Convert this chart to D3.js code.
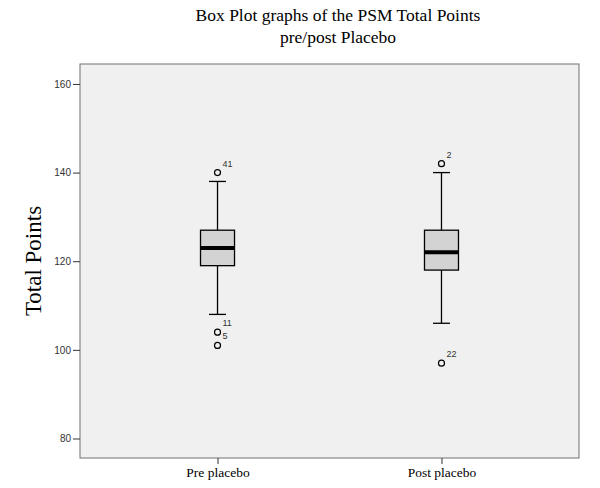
<!DOCTYPE html>
<html><head><meta charset="utf-8">
<script src="https://cdn.jsdelivr.net/npm/d3@7"></script>
<style>body{margin:0;background:#fff;}svg{display:block;}</style>
</head><body>
<svg id="chart" width="600" height="488"></svg>
<script>
const categories = ["Pre placebo", "Post placebo"];
const q1 = [119, 118];
const median = [123, 122];
const q3 = [127, 127];
const whiskerLow = [108, 106];
const whiskerHigh = [138, 140];
const outliers = [
  [{v: 140, id: "41"}, {v: 104, id: "11"}, {v: 101, id: "5"}],
  [{v: 142, id: "2"}, {v: 97, id: "22"}]
];
const yTicks = [80, 100, 120, 140, 160];

const svg = d3.select("#chart");
const L = 80, R = 579, T = 64, B = 458;

const y = d3.scaleLinear().domain([75.6, 164.5]).range([B, T]);
const x = d3.scalePoint().domain(categories).range([L, R]).padding(0.614);

svg.append("rect").attr("x", L).attr("y", T).attr("width", R - L).attr("height", B - T)
  .attr("fill", "#f0f0f0").attr("stroke", "#707070").attr("stroke-width", 1);

// title
const title = svg.append("text").attr("text-anchor", "middle")
  .attr("font-family", "Liberation Serif, Times New Roman, serif").attr("font-size", 17.5).attr("fill", "#000");
title.append("tspan").attr("x", 338).attr("y", 21).text("Box Plot graphs of the PSM Total Points");
title.append("tspan").attr("x", 338).attr("y", 43).text("pre/post Placebo");

// y axis
const yAxis = d3.axisLeft(y).tickValues(yTicks).tickSize(7).tickPadding(2);
const gy = svg.append("g").attr("transform", `translate(${L},0)`).call(yAxis);
gy.select(".domain").remove();
gy.selectAll("line").attr("stroke", "#333");
gy.selectAll("text").attr("font-family", "Liberation Sans, Arial, sans-serif").attr("font-size", 10).attr("fill", "#333");

svg.append("text").attr("transform", `translate(41,${(T + B) / 2}) rotate(-90)`)
  .attr("text-anchor", "middle").attr("font-family", "Liberation Serif, Times New Roman, serif")
  .attr("font-size", 23).attr("fill", "#000").text("Total Points");

// x axis
const xAxis = d3.axisBottom(x).tickSize(6).tickPadding(3);
const gx = svg.append("g").attr("transform", `translate(0,${B})`).call(xAxis);
gx.select(".domain").remove();
gx.selectAll("line").attr("stroke", "#333");
gx.selectAll("text").attr("font-family", "Liberation Serif, Times New Roman, serif").attr("font-size", 13.5).attr("fill", "#000");

// boxes
const boxW = 34, capW = 17;
categories.forEach((c, i) => {
  const cx = x(c);
  const g = svg.append("g");
  g.append("line").attr("x1", cx).attr("x2", cx).attr("y1", y(whiskerHigh[i])).attr("y2", y(q3[i]))
    .attr("stroke", "#000").attr("stroke-width", 1.3);
  g.append("line").attr("x1", cx).attr("x2", cx).attr("y1", y(q1[i])).attr("y2", y(whiskerLow[i]))
    .attr("stroke", "#000").attr("stroke-width", 1.3);
  [whiskerHigh[i], whiskerLow[i]].forEach(v => {
    g.append("line").attr("x1", cx - capW / 2).attr("x2", cx + capW / 2).attr("y1", y(v)).attr("y2", y(v))
      .attr("stroke", "#000").attr("stroke-width", 1.3);
  });
  g.append("rect").attr("x", cx - boxW / 2).attr("y", y(q3[i])).attr("width", boxW)
    .attr("height", y(q1[i]) - y(q3[i])).attr("fill", "#d3d3d3").attr("stroke", "#000").attr("stroke-width", 1.3);
  g.append("line").attr("x1", cx - boxW / 2).attr("x2", cx + boxW / 2).attr("y1", y(median[i])).attr("y2", y(median[i]))
    .attr("stroke", "#000").attr("stroke-width", 4);
  outliers[i].forEach(o => {
    g.append("circle").attr("cx", cx).attr("cy", y(o.v)).attr("r", 3)
      .attr("fill", "none").attr("stroke", "#000").attr("stroke-width", 1.2);
    g.append("text").attr("x", cx + 5).attr("y", y(o.v) - 6)
      .attr("font-family", "Liberation Sans, Arial, sans-serif").attr("font-size", 9).attr("fill", "#333").text(o.id);
  });
});
</script>
</body></html>
